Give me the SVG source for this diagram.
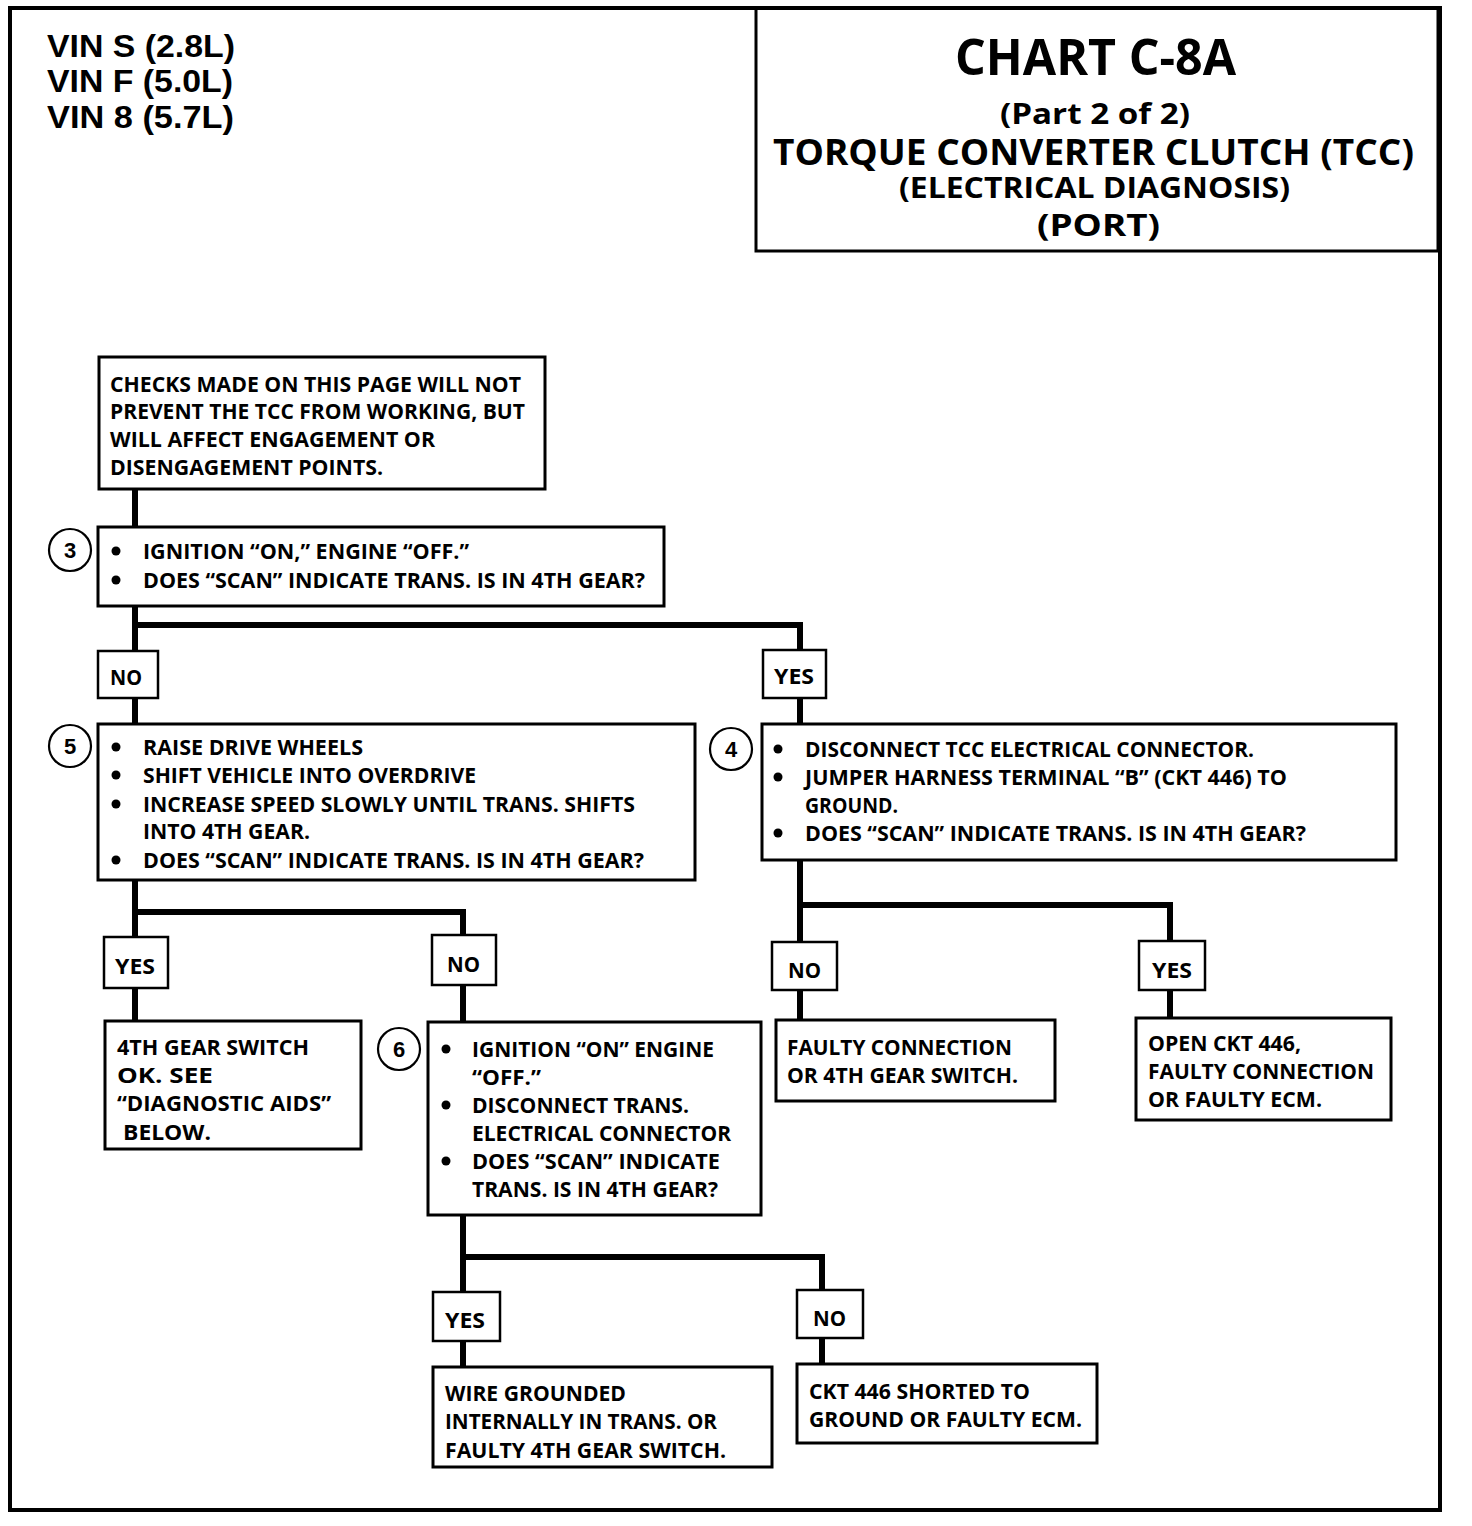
<svg xmlns="http://www.w3.org/2000/svg" width="1472" height="1526" viewBox="0 0 1472 1526">
<style>
.bx{fill:#fff;stroke:#000;stroke-width:3}
.lb{fill:#fff;stroke:#000;stroke-width:2.5}
.t{font-family:"Open Sans","DejaVu Sans",sans-serif;font-weight:bold;font-size:21px;fill:#000}
.n{font-family:"Liberation Sans",Arial,sans-serif;font-weight:bold;font-size:22px;fill:#000;text-anchor:middle}
.vin{font-family:"Liberation Sans",Arial,sans-serif;font-weight:bold;font-size:31px;fill:#000}
.ti{font-family:"Open Sans","DejaVu Sans",sans-serif;font-weight:bold;fill:#000}
.c{fill:#fff;stroke:#000;stroke-width:2.2}
.con{fill:none;stroke:#000;stroke-width:6}
</style>
<defs>
<circle id="dot" r="4.5" fill="#000"/>
</defs>
<rect x="0" y="0" width="1472" height="1526" fill="#fff"/>
<g id="frame">
<rect x="10" y="8" width="1430" height="1502" fill="none" stroke="#000" stroke-width="4"/>
</g>
<g id="vin">
<text class="vin" x="47" y="57" textLength="188" lengthAdjust="spacingAndGlyphs">VIN S (2.8L)</text>
<text class="vin" x="47" y="92" textLength="186" lengthAdjust="spacingAndGlyphs">VIN F (5.0L)</text>
<text class="vin" x="47" y="128" textLength="187" lengthAdjust="spacingAndGlyphs">VIN 8 (5.7L)</text>
</g>
<g id="title">
<rect x="756" y="8" width="682" height="243" fill="none" stroke="#000" stroke-width="3"/>
<text class="ti" x="955" y="75" font-size="50" textLength="281" lengthAdjust="spacingAndGlyphs">CHART C-8A</text>
<text class="ti" x="1000" y="124" font-size="28" textLength="190" lengthAdjust="spacingAndGlyphs">(Part  2 of 2)</text>
<text class="ti" x="773" y="165" font-size="35" textLength="641" lengthAdjust="spacingAndGlyphs">TORQUE CONVERTER CLUTCH (TCC)</text>
<text class="ti" x="899" y="198" font-size="29" textLength="391" lengthAdjust="spacingAndGlyphs">(ELECTRICAL DIAGNOSIS)</text>
<text class="ti" x="1037" y="236" font-size="31" textLength="123" lengthAdjust="spacingAndGlyphs">(PORT)</text>
</g>
<g id="connectors">
<path class="con" d="M135 489V527"/>
<path class="con" d="M135 606V651M135 625H800V650"/>
<path class="con" d="M135 698V724"/>
<path class="con" d="M800 698V724"/>
<path class="con" d="M135 880V937M135 912H463V935"/>
<path class="con" d="M135 988V1021"/>
<path class="con" d="M463 985V1022"/>
<path class="con" d="M463 1215V1292M463 1257H822V1290"/>
<path class="con" d="M463 1341V1367"/>
<path class="con" d="M822 1338V1364"/>
<path class="con" d="M800 860V942M800 905H1170V941"/>
<path class="con" d="M800 990V1020"/>
<path class="con" d="M1170 990V1018"/>
</g>
<g id="start">
<rect class="bx" x="99" y="357" width="446" height="132"/>
<text class="t" x="110" y="392" textLength="411" lengthAdjust="spacingAndGlyphs">CHECKS MADE ON THIS PAGE WILL NOT</text>
<text class="t" x="110" y="419" textLength="415" lengthAdjust="spacingAndGlyphs">PREVENT THE TCC FROM WORKING, BUT</text>
<text class="t" x="110" y="447" textLength="325" lengthAdjust="spacingAndGlyphs">WILL AFFECT ENGAGEMENT OR</text>
<text class="t" x="110" y="475" textLength="273" lengthAdjust="spacingAndGlyphs">DISENGAGEMENT POINTS.</text>
</g>
<g id="step3">
<rect class="bx" x="98" y="527" width="566" height="79"/>
<circle class="c" cx="70" cy="550" r="21"/>
<text class="n" x="70" y="558">3</text>
<use href="#dot" x="116" y="551"/>
<use href="#dot" x="116" y="580"/>
<text class="t" x="143" y="559" textLength="326" lengthAdjust="spacingAndGlyphs">IGNITION “ON,” ENGINE “OFF.”</text>
<text class="t" x="143" y="588" textLength="502" lengthAdjust="spacingAndGlyphs">DOES “SCAN” INDICATE TRANS. IS IN 4TH GEAR?</text>
</g>
<g id="lbl-no-3">
<rect class="lb" x="98" y="651" width="60" height="47"/>
<text class="t" x="110" y="685" textLength="32" lengthAdjust="spacingAndGlyphs">NO</text>
</g>
<g id="lbl-yes-3">
<rect class="lb" x="763" y="650" width="63" height="48"/>
<text class="t" x="774" y="684" textLength="40" lengthAdjust="spacingAndGlyphs">YES</text>
</g>
<g id="step5">
<rect class="bx" x="98" y="724" width="597" height="156"/>
<circle class="c" cx="70" cy="746" r="21"/>
<text class="n" x="70" y="754">5</text>
<use href="#dot" x="116" y="747"/>
<use href="#dot" x="116" y="775"/>
<use href="#dot" x="116" y="804"/>
<use href="#dot" x="116" y="860"/>
<text class="t" x="143" y="755" textLength="220" lengthAdjust="spacingAndGlyphs">RAISE DRIVE WHEELS</text>
<text class="t" x="143" y="783" textLength="333" lengthAdjust="spacingAndGlyphs">SHIFT VEHICLE INTO OVERDRIVE</text>
<text class="t" x="143" y="812" textLength="492" lengthAdjust="spacingAndGlyphs">INCREASE SPEED SLOWLY UNTIL TRANS. SHIFTS</text>
<text class="t" x="143" y="839" textLength="167" lengthAdjust="spacingAndGlyphs">INTO 4TH GEAR.</text>
<text class="t" x="143" y="868" textLength="501" lengthAdjust="spacingAndGlyphs">DOES “SCAN” INDICATE TRANS. IS IN 4TH GEAR?</text>
</g>
<g id="step4">
<rect class="bx" x="762" y="724" width="634" height="136"/>
<circle class="c" cx="731" cy="749" r="21"/>
<text class="n" x="731" y="757">4</text>
<use href="#dot" x="778" y="749"/>
<use href="#dot" x="778" y="777"/>
<use href="#dot" x="778" y="833"/>
<text class="t" x="805" y="757" textLength="449" lengthAdjust="spacingAndGlyphs">DISCONNECT TCC ELECTRICAL CONNECTOR.</text>
<text class="t" x="805" y="785" textLength="482" lengthAdjust="spacingAndGlyphs">JUMPER HARNESS TERMINAL “B” (CKT 446) TO</text>
<text class="t" x="805" y="813" textLength="93" lengthAdjust="spacingAndGlyphs">GROUND.</text>
<text class="t" x="805" y="841" textLength="501" lengthAdjust="spacingAndGlyphs">DOES “SCAN” INDICATE TRANS. IS IN 4TH GEAR?</text>
</g>
<g id="lbl-yes-5">
<rect class="lb" x="104" y="937" width="64" height="51"/>
<text class="t" x="115" y="974" textLength="40" lengthAdjust="spacingAndGlyphs">YES</text>
</g>
<g id="lbl-no-5">
<rect class="lb" x="432" y="935" width="64" height="50"/>
<text class="t" x="447" y="972" textLength="33" lengthAdjust="spacingAndGlyphs">NO</text>
</g>
<g id="result-switch-ok">
<rect class="bx" x="105" y="1021" width="256" height="128"/>
<text class="t" x="117" y="1055" textLength="192" lengthAdjust="spacingAndGlyphs">4TH GEAR SWITCH</text>
<text class="t" x="117" y="1083" textLength="96" lengthAdjust="spacingAndGlyphs">OK.  SEE</text>
<text class="t" x="117" y="1111" textLength="214" lengthAdjust="spacingAndGlyphs">“DIAGNOSTIC AIDS”</text>
<text class="t" x="123" y="1140" textLength="88" lengthAdjust="spacingAndGlyphs">BELOW.</text>
</g>
<g id="step6">
<rect class="bx" x="428" y="1022" width="333" height="193"/>
<circle class="c" cx="399" cy="1049" r="21"/>
<text class="n" x="399" y="1057">6</text>
<use href="#dot" x="446" y="1049"/>
<use href="#dot" x="446" y="1105"/>
<use href="#dot" x="446" y="1161"/>
<text class="t" x="472" y="1057" textLength="242" lengthAdjust="spacingAndGlyphs">IGNITION “ON” ENGINE</text>
<text class="t" x="472" y="1085" textLength="69" lengthAdjust="spacingAndGlyphs">“OFF.”</text>
<text class="t" x="472" y="1113" textLength="217" lengthAdjust="spacingAndGlyphs">DISCONNECT TRANS.</text>
<text class="t" x="472" y="1141" textLength="259" lengthAdjust="spacingAndGlyphs">ELECTRICAL CONNECTOR</text>
<text class="t" x="472" y="1169" textLength="248" lengthAdjust="spacingAndGlyphs">DOES “SCAN” INDICATE</text>
<text class="t" x="472" y="1197" textLength="246" lengthAdjust="spacingAndGlyphs">TRANS. IS IN 4TH GEAR?</text>
</g>
<g id="lbl-no-4">
<rect class="lb" x="772" y="942" width="65" height="48"/>
<text class="t" x="788" y="978" textLength="33" lengthAdjust="spacingAndGlyphs">NO</text>
</g>
<g id="lbl-yes-4">
<rect class="lb" x="1139" y="941" width="66" height="49"/>
<text class="t" x="1152" y="978" textLength="40" lengthAdjust="spacingAndGlyphs">YES</text>
</g>
<g id="result-faulty-conn">
<rect class="bx" x="776" y="1020" width="279" height="81"/>
<text class="t" x="787" y="1055" textLength="225" lengthAdjust="spacingAndGlyphs">FAULTY CONNECTION</text>
<text class="t" x="787" y="1083" textLength="231" lengthAdjust="spacingAndGlyphs">OR 4TH GEAR SWITCH.</text>
</g>
<g id="result-open-ckt">
<rect class="bx" x="1136" y="1018" width="255" height="102"/>
<text class="t" x="1148" y="1051" textLength="153" lengthAdjust="spacingAndGlyphs">OPEN CKT 446,</text>
<text class="t" x="1148" y="1079" textLength="226" lengthAdjust="spacingAndGlyphs">FAULTY CONNECTION</text>
<text class="t" x="1148" y="1107" textLength="174" lengthAdjust="spacingAndGlyphs">OR FAULTY ECM.</text>
</g>
<g id="lbl-yes-6">
<rect class="lb" x="433" y="1292" width="67" height="49"/>
<text class="t" x="445" y="1328" textLength="40" lengthAdjust="spacingAndGlyphs">YES</text>
</g>
<g id="lbl-no-6">
<rect class="lb" x="797" y="1290" width="66" height="48"/>
<text class="t" x="813" y="1326" textLength="33" lengthAdjust="spacingAndGlyphs">NO</text>
</g>
<g id="result-wire-grounded">
<rect class="bx" x="433" y="1367" width="339" height="100"/>
<text class="t" x="445" y="1401" textLength="181" lengthAdjust="spacingAndGlyphs">WIRE GROUNDED</text>
<text class="t" x="445" y="1429" textLength="272" lengthAdjust="spacingAndGlyphs">INTERNALLY IN TRANS. OR</text>
<text class="t" x="445" y="1458" textLength="281" lengthAdjust="spacingAndGlyphs">FAULTY 4TH GEAR SWITCH.</text>
</g>
<g id="result-ckt-shorted">
<rect class="bx" x="797" y="1364" width="300" height="79"/>
<text class="t" x="809" y="1399" textLength="221" lengthAdjust="spacingAndGlyphs">CKT 446 SHORTED TO</text>
<text class="t" x="809" y="1427" textLength="273" lengthAdjust="spacingAndGlyphs">GROUND OR FAULTY ECM.</text>
</g>
</svg>
